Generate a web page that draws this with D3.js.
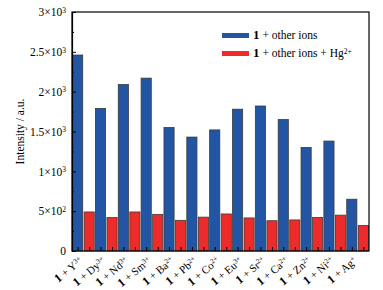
<!DOCTYPE html>
<html>
<head>
<meta charset="utf-8">
<script src="https://cdn.jsdelivr.net/npm/d3@7"></script>
<style>
  html, body { margin: 0; padding: 0; background: #fff; }
  svg { display: block; }
  svg text { font-family: "Liberation Serif", "Times New Roman", "DejaVu Serif", serif; }
</style>
</head>
<body>
<div id="chart"></div>
<script>
// ------------------------------------------------------------
//  Data
// ------------------------------------------------------------
const ions = ['Y', 'Dy', 'Nd', 'Sm', 'Ba', 'Pb', 'Co', 'Eu', 'Sr', 'Ca', 'Zn', 'Ni', 'Ag'];
const charges = ['3+', '3+', '3+', '3+', '2+', '2+', '2+', '3+', '2+', '2+', '2+', '2+', '+'];
const otherIons = [2460, 1790, 2090, 2170, 1550, 1430, 1520, 1780, 1820, 1650, 1300, 1380, 650];
const otherIonsHg = [490, 420, 490, 460, 385, 425, 465, 415, 380, 390, 420, 450, 320];

const seriesKeys = ['other', 'hg'];
const seriesColors = { other: '#2355a5', hg: '#ee2b2b' };

const yMajorTicks = [0, 500, 1000, 1500, 2000, 2500, 3000];
const yTickMant = ['0', '5', '1', '1.5', '2', '2.5', '3'];
const yTickExp = ['', '2', '3', '3', '3', '3', '3'];
const yMinorTicks = [250, 750, 1250, 1750, 2250, 2750];

const SERIF = '"Liberation Serif", "Times New Roman", "DejaVu Serif", serif';

// ------------------------------------------------------------
//  Layout
// ------------------------------------------------------------
const width = 383, height = 290;
const margin = { top: 12, right: 14, bottom: 39, left: 72 };

const svg = d3.select('#chart').append('svg')
  .attr('width', width).attr('height', height)
  .attr('font-family', SERIF);

const x0 = d3.scaleBand()
  .domain(ions)
  .range([margin.left, width - margin.right])
  .paddingInner(0).paddingOuter(0);

const x1 = d3.scaleBand()
  .domain(seriesKeys)
  .range([0, x0.bandwidth()])
  .paddingInner(0.12).paddingOuter(0.05);

const y = d3.scaleLinear()
  .domain([0, 3000])
  .range([height - margin.bottom, margin.top]);

const rows = ions.map((ion, i) => ({ ion, other: otherIons[i], hg: otherIonsHg[i] }));

// ------------------------------------------------------------
//  Bars
// ------------------------------------------------------------
const groups = svg.append('g').selectAll('g')
  .data(rows)
  .join('g')
  .attr('transform', d => `translate(${x0(d.ion)},0)`);

groups.selectAll('rect')
  .data(d => seriesKeys.map(k => ({ key: k, value: d[k] })))
  .join('rect')
  .attr('x', d => x1(d.key))
  .attr('width', x1.bandwidth())
  .attr('y', d => y(d.value))
  .attr('height', d => y(0) - y(d.value))
  .attr('fill', d => seriesColors[d.key])
  .attr('stroke', '#3a3a3a')
  .attr('stroke-width', 0.8);

// ------------------------------------------------------------
//  Axes
// ------------------------------------------------------------
// y axis, major ticks inward
const yAxis = svg.append('g')
  .attr('transform', `translate(${margin.left},0)`)
  .call(d3.axisLeft(y).tickValues(yMajorTicks).tickSizeInner(-4).tickSizeOuter(0).tickPadding(6))
  .attr('font-family', SERIF)
  .attr('font-size', 11.5);

yAxis.selectAll('.tick text')
  .attr('fill', '#000')
  .text(null)
  .each(function(d, i) {
    const t = d3.select(this);
    if (i === 0) { t.text(yTickMant[0]); return; }
    t.append('tspan').text(yTickMant[i] + '×10');
    t.append('tspan').attr('font-size', 7.5).attr('dy', '-0.45em').text(yTickExp[i]);
  });

// y minor ticks
svg.append('g')
  .attr('transform', `translate(${margin.left},0)`)
  .call(d3.axisLeft(y).tickValues(yMinorTicks).tickSizeInner(-2).tickSizeOuter(0).tickFormat(''))
  .call(g => g.select('.domain').remove());

// x ticks at each bar centre
const barCenters = [];
ions.forEach(ion => seriesKeys.forEach(k => barCenters.push(x0(ion) + x1(k) + x1.bandwidth() / 2)));
const xLin = d3.scaleLinear().domain([0, width]).range([0, width]);
svg.append('g')
  .attr('transform', `translate(0,${height - margin.bottom})`)
  .call(d3.axisBottom(xLin).tickValues(barCenters).tickSizeInner(-4).tickSizeOuter(0).tickFormat(''))
  .call(g => g.select('.domain').remove());

svg.selectAll('.tick line').attr('stroke', '#000').attr('stroke-width', 1);
svg.selectAll('.domain').attr('stroke-width', 1.2);

// frame
svg.append('rect')
  .attr('x', margin.left).attr('y', margin.top)
  .attr('width', width - margin.left - margin.right)
  .attr('height', height - margin.top - margin.bottom)
  .attr('fill', 'none').attr('stroke', '#000').attr('stroke-width', 1.2);

// x category labels, rotated
const xLabels = svg.append('g').selectAll('text')
  .data(ions)
  .join('text')
  .attr('transform', d => `translate(${x0(d) + x0.bandwidth() / 2},${height - margin.bottom + 11}) rotate(-40)`)
  .attr('text-anchor', 'end')
  .attr('font-size', 11)
  .attr('fill', '#000');

xLabels.append('tspan').attr('font-weight', 'bold').attr('font-size', 12).text('1');
xLabels.append('tspan').text(d => ' + ' + d);
xLabels.append('tspan').attr('font-size', 7).attr('dy', '-0.5em').text((d, i) => charges[i]);

// y axis title
svg.append('text')
  .attr('transform', `translate(24,${(margin.top + height - margin.bottom) / 2}) rotate(-90)`)
  .attr('text-anchor', 'middle')
  .attr('font-size', 11.5)
  .text('Intensity / a.u.');

// ------------------------------------------------------------
//  Legend
// ------------------------------------------------------------
const legend = svg.append('g').attr('transform', 'translate(222,0)');
const legendRows = [
  { key: 'other', y: 35.5, suffix: null },
  { key: 'hg', y: 53.5, suffix: '2+' }
];
legendRows.forEach(r => {
  legend.append('rect')
    .attr('x', 0).attr('y', r.y - 2.5)
    .attr('width', 27).attr('height', 5)
    .attr('fill', seriesColors[r.key]);
  const t = legend.append('text')
    .attr('x', 31).attr('y', r.y + 3.8)
    .attr('font-size', 11.5);
  t.append('tspan').attr('font-weight', 'bold').attr('font-size', 13).text('1');
  t.append('tspan').text(r.key === 'other' ? ' + other ions' : ' + other ions + Hg');
  if (r.suffix) t.append('tspan').attr('font-size', 7.5).attr('dy', '-0.5em').text(r.suffix);
});
</script>
</body>
</html>
